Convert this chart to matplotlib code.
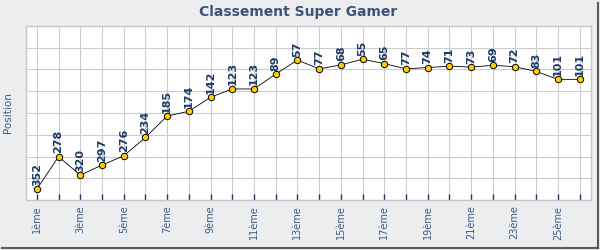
import matplotlib
matplotlib.use("Agg")
import matplotlib.pyplot as plt
import numpy as np
from matplotlib.lines import Line2D

# Data
ranks = list(range(1, 27))
tick_labels = [f"{r}ème" if r % 2 == 1 else "" for r in ranks]
positions = [352, 278, 320, 297, 276, 234, 185, 174, 142, 123, 123, 89, 57,
             77, 68, 55, 65, 77, 74, 71, 73, 69, 72, 83, 101, 101]

title = "Classement Super Gamer"
ylabel = "Position"

bg = "#ECEDEF"
fig = plt.figure(figsize=(6, 2.5), dpi=100, facecolor=bg)
ax = fig.add_axes([26/600, 1-200/250, (590.5-26)/600, (200-26)/250])
ax.set_facecolor("white")

ax.plot(ranks, positions, color="black", lw=0.6, marker="o", ms=4.6,
        mfc="#FFCC00", mec="black", mew=0.7, zorder=3)

for x, v in zip(ranks, positions):
    ax.annotate(str(v), xy=(x, v), xytext=(0, 2.5), textcoords="offset points",
                rotation=90, ha="center", va="bottom", fontsize=8,
                fontweight="bold", color="#1c3a66", zorder=4)

ax.set_xlim(0.5, 26.5)
ax.set_ylim(377, -21)
ax.set_yticks(np.linspace(-21, 377, 9))
ax.set_yticklabels([])
ax.tick_params(axis="y", length=0)
ax.set_xticks(ranks)
ax.set_xticklabels(tick_labels, rotation=90, fontsize=7, color="#3d5a8a")
ax.tick_params(axis="x", direction="in", length=4, width=1, color="#1c3a66", pad=4)
ax.grid(True, color="#CCCCCC", lw=0.8)
ax.set_axisbelow(True)
for s in ax.spines.values():
    s.set_color("#C8C8C8")
    s.set_linewidth(1)

ax.set_ylabel(ylabel, fontsize=7.5, color="#3d5a8a")
ax.yaxis.set_label_coords(-13/565, 0.5)

fig.text(0.497, 0.953, title, ha="center", va="center", fontsize=10,
         fontweight="bold", color="#3e5379")

# frame shadow
fig.add_artist(Line2D([597.5/600, 597.5/600], [2/250, 1-3/250], transform=fig.transFigure,
                      color="#5a5a5a", lw=1.5))
fig.add_artist(Line2D([2/600, 598/600], [2.2/250, 2.2/250], transform=fig.transFigure,
                      color="#5a5a5a", lw=1.5))

fig.savefig("out.png", dpi=100, facecolor=bg)
